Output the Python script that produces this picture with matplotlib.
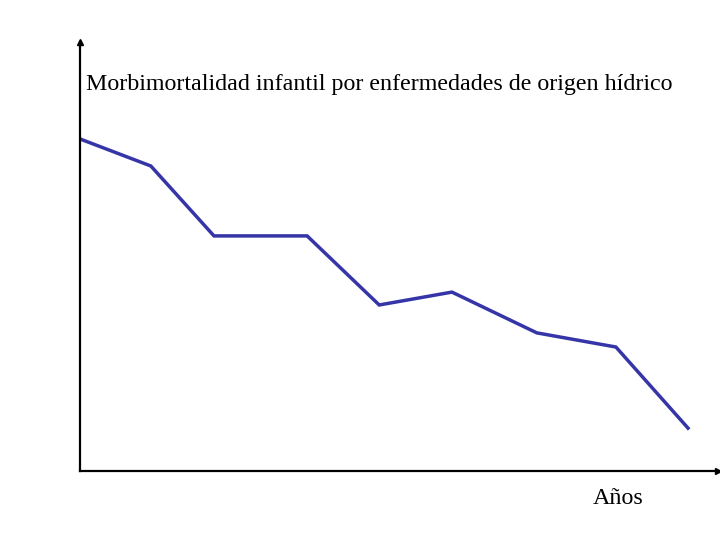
import matplotlib
matplotlib.use("Agg")
import matplotlib.pyplot as plt

# years (position along axis, 0-100) and morbimortality level (0-100)
years = [0, 11.1, 21.0, 35.6, 46.9, 58.3, 71.6, 84.0, 95.3]
morbi = [77.4, 71.1, 54.8, 54.8, 38.7, 41.7, 32.2, 28.9, 10.0]

plt.rcParams['font.family'] = ['Liberation Serif', 'DejaVu Serif']

fig = plt.figure(figsize=(7.2, 5.4), dpi=100)
ax = fig.add_axes([80/720, 1 - 471/540, 638/720, 429/540])

ax.plot(years, morbi, color='#3535a8', linewidth=2.5, solid_joinstyle='miter')

ax.set_xlim(0, 100)
ax.set_ylim(0, 100)
ax.set_xticks([])
ax.set_yticks([])
for s in ['top', 'right']:
    ax.spines[s].set_visible(False)
for s in ['left', 'bottom']:
    ax.spines[s].set_linewidth(1.6)
    ax.spines[s].set_color('black')

# arrow heads at the ends of the axes
ax.plot(1, 0, marker='>', color='black', markersize=4, transform=ax.transAxes, clip_on=False)
ax.plot(0, 1, marker='^', color='black', markersize=4, transform=ax.transAxes, clip_on=False)

ax.text(0.01, 0.9, 'Morbimortalidad infantil por enfermedades de origen hídrico',
        transform=ax.transAxes, fontsize=17.3, ha='left', va='center')
ax.text(0.843, -0.065, 'Años', transform=ax.transAxes, fontsize=17.3, ha='center', va='center')

fig.savefig('out.png', dpi=100)
